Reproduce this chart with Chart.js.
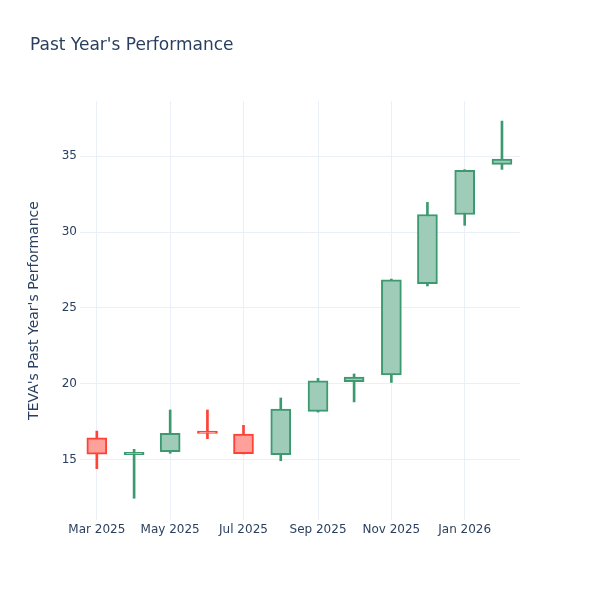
<!DOCTYPE html>
<html>
<head>
<meta charset="utf-8">
<script src="https://cdn.jsdelivr.net/npm/chart.js@4/dist/chart.umd.min.js"></script>
<style>
  html, body { margin: 0; padding: 0; background: #fff; }
  #wrap { width: 600px; height: 600px; }
</style>
</head>
<body>
<div id="wrap"><canvas id="grafico" width="600" height="600"></canvas></div>
<script>
// monthly candles
const meses = ['2025-03-01', '2025-04-01', '2025-05-01', '2025-06-01', '2025-07-01', '2025-08-01',
               '2025-09-01', '2025-10-01', '2025-11-01', '2025-12-01', '2026-01-01', '2026-02-01'];
const aberturas = [16.45, 15.35, 15.55, 16.90, 16.70, 15.35, 18.20, 20.15, 20.60, 26.60, 31.15, 34.45];
const maximas   = [16.90, 15.70, 18.29, 18.29, 17.28, 19.08, 20.37, 20.66, 26.90, 31.95, 34.10, 37.30];
const minimas   = [14.43, 12.48, 15.44, 16.40, 15.40, 14.95, 18.15, 18.82, 20.10, 26.45, 30.44, 34.12];
const fechamentos = [15.38, 15.50, 16.75, 16.75, 15.42, 18.35, 20.20, 20.45, 26.85, 31.15, 34.05, 34.80];
const marcasX = ['2025-03-01', '2025-05-01', '2025-07-01', '2025-09-01', '2025-11-01', '2026-01-01'];

const nomesMes = ['Jan','Feb','Mar','Apr','May','Jun','Jul','Aug','Sep','Oct','Nov','Dec'];
const paraData = s => { const p = s.split('-'); return Date.UTC(+p[0], +p[1] - 1, +p[2]); };

const fonte = 'DejaVu Sans';
const verde = '#3D9970', verdeClaro = 'rgb(158,204,184)';
const vermelho = '#FF4136', vermelhoClaro = 'rgb(255,160,155)';
const sobe = aberturas.map((a, i) => fechamentos[i] >= a);

const corpos = meses.map((m, i) => ({ x: paraData(m), y: [aberturas[i], fechamentos[i]] }));
const pavios = meses.map((m, i) => ({ x: paraData(m), y: [minimas[i], maximas[i]] }));

const ctx = document.getElementById('grafico');
new Chart(ctx.getContext('2d'), {
    type: 'bar',
    data: {
        datasets: [{
            data: corpos,
            order: 0,
            barThickness: 20,
            borderWidth: 2,
            borderSkipped: false,
            grouped: false,
            borderColor: sobe.map(s => s ? verde : vermelho),
            backgroundColor: sobe.map(s => s ? verdeClaro : vermelhoClaro)
        }, {
            data: pavios,
            order: 1,
            barThickness: 2,
            borderWidth: 0,
            grouped: false,
            backgroundColor: sobe.map(s => s ? verde : vermelho)
        }]
    },
    options: {
        responsive: false,
        animation: false,
        layout: { padding: { left: 30, right: 80, top: 35, bottom: 0 } },
        plugins: {
            legend: { display: false },
            tooltip: { enabled: false },
            title: {
                display: true,
                text: "Past Year's Performance",
                align: 'start',
                color: '#2a3f5f',
                font: { family: fonte, size: 17, weight: 'normal' },
                padding: { top: 0, bottom: 45.6 }
            }
        },
        scales: {
            x: {
                type: 'linear',
                offset: false,
                min: Date.UTC(2025, 1, 15),
                max: Date.UTC(2026, 1, 16),
                afterBuildTicks: scale => { scale.ticks = marcasX.map(m => ({ value: paraData(m) })); },
                afterFit: scale => { scale.height = 80; },
                grid: { color: '#EBF0F8', drawTicks: false, offset: false },
                border: { display: false },
                ticks: {
                    padding: 3,
                    color: '#2a3f5f',
                    font: { family: fonte, size: 12 },
                    maxRotation: 0,
                    autoSkip: false,
                    callback: v => { const d = new Date(v); return nomesMes[d.getUTCMonth()] + ' ' + d.getUTCFullYear(); }
                }
            },
            y: {
                min: 11.05,
                max: 38.62,
                afterFit: scale => { scale.width = 50; },
                grid: { color: '#EBF0F8', drawTicks: false },
                border: { display: false },
                ticks: {
                    stepSize: 5,
                    includeBounds: false,
                    padding: 3,
                    color: '#2a3f5f',
                    font: { family: fonte, size: 12 }
                },
                title: {
                    display: true,
                    text: "TEVA's Past Year's Performance",
                    color: '#2a3f5f',
                    font: { family: fonte, size: 14 },
                    padding: { top: -4, bottom: 0 }
                }
            }
        }
    }
});
</script>
</body>
</html>
